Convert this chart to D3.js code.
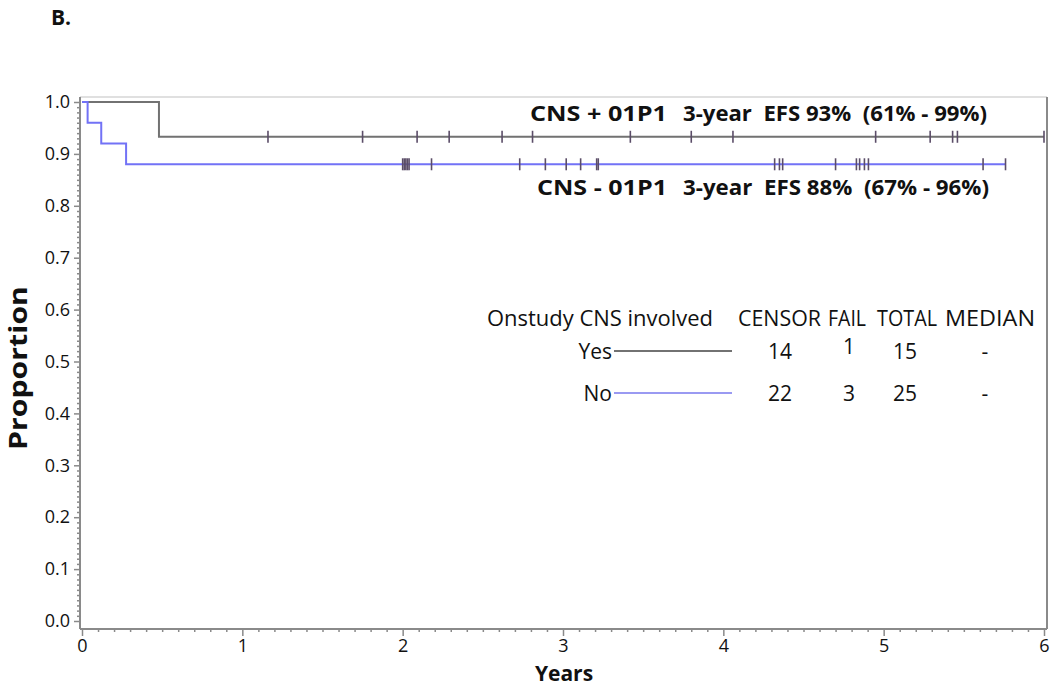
<!DOCTYPE html>
<html>
<head>
<meta charset="utf-8">
<script src="https://cdn.jsdelivr.net/npm/d3@7"></script>
<style>
  body { margin: 0; background: #fff; }
  text { font-family: "Open Sans", sans-serif; fill: #111; }
</style>
</head>
<body>
<svg id="chart" width="1050" height="687"></svg>
<script>
// Kaplan-Meier step points (years, proportion)
const posTimes = [0, 0.48];
const posSurv = [1.0, 0.933];
const posEnd = 6.0;
const negTimes = [0, 0.035, 0.12, 0.275];
const negSurv = [1.0, 0.96, 0.92, 0.88];
const negEnd = 5.76;

// censor ticks (years)
const posCensor = [1.16, 1.75, 2.09, 2.29, 2.62, 2.81, 3.42, 3.80, 4.06, 4.95, 5.29, 5.43, 5.46, 6.0];
const negCensor = [2.00, 2.01, 2.02, 2.03, 2.04, 2.18, 2.73, 2.89, 3.02, 3.11, 3.21, 3.22,
                   4.32, 4.35, 4.37, 4.70, 4.83, 4.85, 4.88, 4.905, 5.62, 5.76];

const xTicks = [0, 1, 2, 3, 4, 5, 6];
const yTicks = [0, 0.1, 0.2, 0.3, 0.4, 0.5, 0.6, 0.7, 0.8, 0.9, 1.0];

const legendHeader = ["Onstudy CNS involved", "CENSOR", "FAIL", "TOTAL", "MEDIAN"];
const legendRows = [
  { label: "Yes", censor: "14", fail: "1", total: "15", median: "-" },
  { label: "No", censor: "22", fail: "3", total: "25", median: "-" }
];
const annotations = [
  { group: "CNS + 01P1", text: "3-year  EFS 93%  (61% - 99%)" },
  { group: "CNS - 01P1", text: "3-year  EFS 88%  (67% - 96%)" }
];

const grayColor = "#727272", blueColor = "#7272f6", censorColor = "#5b4d68";

const svg = d3.select( "#chart" );
const x = d3.scaleLinear().domain( [ 0, 6 ] ).range( [ 82, 1044 ] );
const y = d3.scaleLinear().domain( [ 0, 1 ] ).range( [ 621, 102 ] );
const axisX = 80, axisY = 629, frameTop = 97, frameRight = 1047;

// frame
svg.append( "line" ).attr( "x1", axisX ).attr( "x2", frameRight ).attr( "y1", frameTop ).attr( "y2", frameTop )
  .attr( "stroke", "#d6d6d6" ).attr( "stroke-width", 1.5 );
svg.append( "line" ).attr( "x1", frameRight ).attr( "x2", frameRight ).attr( "y1", frameTop ).attr( "y2", axisY )
  .attr( "stroke", "#8a8a8a" ).attr( "stroke-width", 2 );

// minor ticks
const xMinor = d3.range( 0, 60.5 ).map( i => i / 10 ).filter( v => Math.abs( v - Math.round( v ) ) > 1e-6 );
const yMinor = d3.range( 0, 100.5 ).map( i => i / 100 ).filter( v => Math.abs( v * 10 - Math.round( v * 10 ) ) > 1e-6 );

svg.append( "g" ).attr( "transform", `translate(0,${axisY})` )
  .call( d3.axisBottom( x ).tickValues( xMinor ).tickSize( 3 ).tickFormat( "" ) )
  .call( g => g.select( ".domain" ).remove() )
  .call( g => g.selectAll( "line" ).attr( "stroke", "#8a8a8a" ).attr( "stroke-width", 1.5 ) );
svg.append( "g" ).attr( "transform", `translate(${axisX},0)` )
  .call( d3.axisLeft( y ).tickValues( yMinor ).tickSize( 3 ).tickFormat( "" ) )
  .call( g => g.select( ".domain" ).remove() )
  .call( g => g.selectAll( "line" ).attr( "stroke", "#8a8a8a" ).attr( "stroke-width", 1.5 ) );

// major ticks + labels
svg.append( "g" ).attr( "transform", `translate(0,${axisY})` )
  .call( d3.axisBottom( x ).tickValues( xTicks ).tickSize( 7 ).tickPadding( 3 ).tickFormat( d3.format( "d" ) ) )
  .call( g => g.select( ".domain" ).remove() )
  .call( g => g.selectAll( "line" ).attr( "stroke", "#8a8a8a" ).attr( "stroke-width", 1.5 ) )
  .call( g => g.selectAll( "text" ).attr( "font-size", 18 ).attr( "fill", "#111" ).style( "font-family", "'Open Sans', sans-serif" ) );
svg.append( "g" ).attr( "transform", `translate(${axisX},0)` )
  .call( d3.axisLeft( y ).tickValues( yTicks ).tickSize( 6 ).tickPadding( 4 ).tickFormat( d3.format( ".1f" ) ) )
  .call( g => g.select( ".domain" ).remove() )
  .call( g => g.selectAll( "line" ).attr( "stroke", "#8a8a8a" ).attr( "stroke-width", 1.5 ) )
  .call( g => g.selectAll( "text" ).attr( "font-size", 18 ).attr( "fill", "#111" ).style( "font-family", "'Open Sans', sans-serif" ) );

// axis lines
svg.append( "line" ).attr( "x1", axisX ).attr( "x2", axisX ).attr( "y1", frameTop ).attr( "y2", axisY )
  .attr( "stroke", "#8a8a8a" ).attr( "stroke-width", 2 );
svg.append( "line" ).attr( "x1", axisX ).attr( "x2", frameRight ).attr( "y1", axisY ).attr( "y2", axisY )
  .attr( "stroke", "#8a8a8a" ).attr( "stroke-width", 2 );

// curves
const line = d3.line().x( d => x( d[ 0 ] ) ).y( d => y( d[ 1 ] ) ).curve( d3.curveStepAfter );
const stepPoints = ( times, surv, end ) => times.map( ( t, i ) => [ t, surv[ i ] ] ).concat( [ [ end, surv[ surv.length - 1 ] ] ] );

svg.append( "path" ).datum( stepPoints( posTimes, posSurv, posEnd ) ).attr( "d", line )
  .attr( "fill", "none" ).attr( "stroke", grayColor ).attr( "stroke-width", 2 );
svg.append( "path" ).datum( stepPoints( negTimes, negSurv, negEnd ) ).attr( "d", line )
  .attr( "fill", "none" ).attr( "stroke", blueColor ).attr( "stroke-width", 2 );

// censor marks
const drawCensor = ( times, level ) => svg.append( "g" ).selectAll( "line" ).data( times ).join( "line" )
  .attr( "x1", d => x( d ) ).attr( "x2", d => x( d ) )
  .attr( "y1", y( level ) - 6 ).attr( "y2", y( level ) + 6 )
  .attr( "stroke", censorColor ).attr( "stroke-width", 1.6 );
drawCensor( posCensor, posSurv[ posSurv.length - 1 ] );
drawCensor( negCensor, negSurv[ negSurv.length - 1 ] );

// curve annotations
const annY = [ 121, 195 ];
const annGroupX = [ [ 530, 137 ], [ 537, 130 ] ];
const annTextLen = [ 304, 306 ];
annotations.forEach( ( a, i ) =>
{
  svg.append( "text" ).attr( "x", annGroupX[ i ][ 0 ] ).attr( "y", annY[ i ] )
    .attr( "textLength", annGroupX[ i ][ 1 ] ).attr( "lengthAdjust", "spacingAndGlyphs" )
    .attr( "font-size", 21 ).attr( "font-weight", "bold" ).text( a.group );
  svg.append( "text" ).attr( "x", 683 ).attr( "y", annY[ i ] )
    .attr( "textLength", annTextLen[ i ] ).attr( "lengthAdjust", "spacingAndGlyphs" )
    .attr( "font-size", 21 ).attr( "font-weight", "bold" ).style( "white-space", "pre" ).text( a.text );
} );

// legend table
const headX = [ [ 487, 226 ], [ 738, 83 ], [ 828, 38 ], [ 877, 60 ], [ 945, 90 ] ];
legendHeader.forEach( ( h, i ) =>
  svg.append( "text" ).attr( "x", headX[ i ][ 0 ] ).attr( "y", 326 ).attr( "font-size", 21 )
    .attr( "textLength", headX[ i ][ 1 ] ).attr( "lengthAdjust", "spacingAndGlyphs" ).text( h ) );

const rowY = [ 351, 393 ], rowColors = [ grayColor, "#9a9af2" ];
legendRows.forEach( ( r, i ) =>
{
  svg.append( "text" ).attr( "x", 612 ).attr( "y", rowY[ i ] + 8 ).attr( "text-anchor", "end" ).attr( "font-size", 21 ).text( r.label );
  svg.append( "line" ).attr( "x1", 614 ).attr( "x2", 732 ).attr( "y1", rowY[ i ] ).attr( "y2", rowY[ i ] )
    .attr( "stroke", rowColors[ i ] ).attr( "stroke-width", 2 );
  [ [ r.censor, 780 ], [ r.fail, 849 ], [ r.total, 905 ], [ r.median, 985 ] ].forEach( ( [ v, cx ], j ) =>
    svg.append( "text" ).attr( "x", cx ).attr( "y", rowY[ i ] + ( j === 1 && i === 0 ? 3 : 8 ) )
      .attr( "text-anchor", "middle" ).attr( "font-size", 21 ).text( v ) );
} );

// titles
svg.append( "text" ).attr( "x", 51 ).attr( "y", 25 ).attr( "font-size", 21 ).attr( "font-weight", "bold" ).text( "B." );
svg.append( "text" ).attr( "x", 564 ).attr( "y", 681 ).attr( "text-anchor", "middle" )
  .attr( "font-size", 21 ).attr( "font-weight", "bold" ).text( "Years" );
svg.append( "text" ).attr( "transform", "translate(27,368) rotate(-90)" ).attr( "text-anchor", "middle" )
  .attr( "textLength", 164 ).attr( "lengthAdjust", "spacingAndGlyphs" )
  .attr( "font-size", 25 ).attr( "font-weight", "bold" ).text( "Proportion" );
</script>
</body>
</html>
